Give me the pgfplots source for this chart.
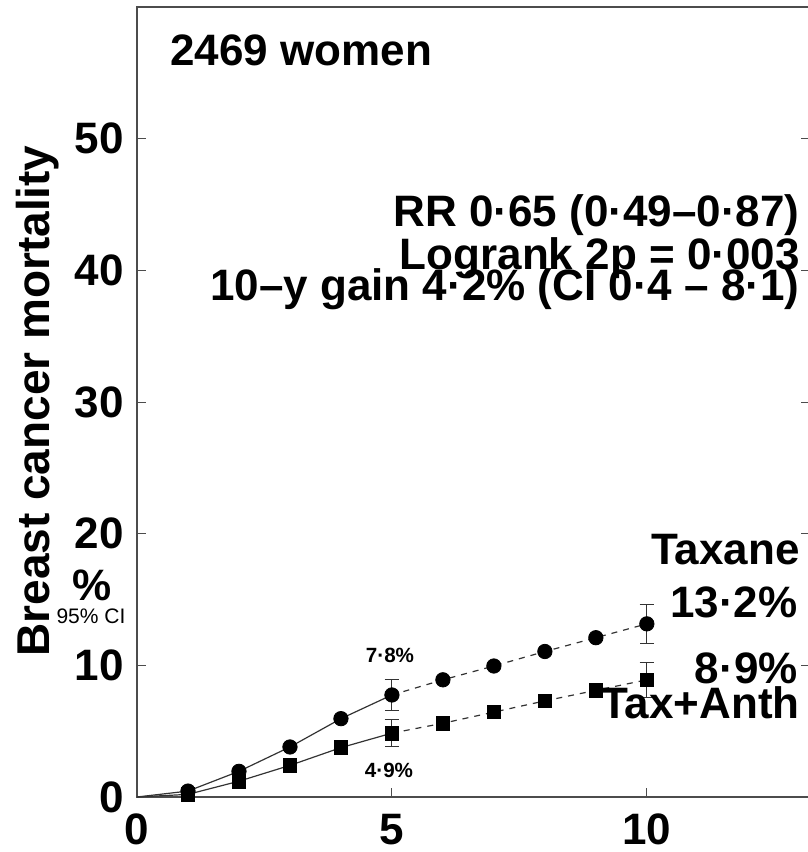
\documentclass[border=0pt]{standalone}
\usepackage{pgfplots}
\pgfplotsset{compat=1.18}
\usepackage{fontspec}
\setmainfont{Liberation Sans}

\begin{document}
\begin{tikzpicture}
\begin{axis}[
    at={(0,0)}, anchor=south west,
    scale only axis,
    width=336.5pt, height=395pt,
    xmin=0, xmax=13.2, ymin=0, ymax=60,
    xtick={0,5,10}, ytick={0,10,20,30,40,50},
    xtick pos=bottom, ytick pos=both,
    tick align=inside,
    major tick length=4.5pt,
    axis line style={black!70, line width=0.6pt},
    every tick/.style={black!70, line width=0.5pt},
    /pgf/number format/assume math mode=true,
    tick label style={font=\bfseries\fontsize{22}{22}\selectfont},
    xticklabel style={yshift=-5pt},
    yticklabel style={xshift=-3pt},
    clip=false
]
    % Taxane, solid to year 5 then dashed
    \addplot[black!80, line width=0.6pt] coordinates {(0,0)(1,0.45)(2,1.95)(3,3.8)(4,5.95)(5,7.75)};
    \addplot[black!80, line width=0.6pt, dashed] coordinates {(5,7.75)(6,8.9)(7,9.95)(8,11.05)(9,12.1)(10,13.15)};
    % Tax+Anth
    \addplot[black!80, line width=0.6pt] coordinates {(0,0)(1,0.2)(2,1.2)(3,2.4)(4,3.75)(5,4.85)};
    \addplot[black!80, line width=0.6pt, dashed] coordinates {(5,4.85)(6,5.6)(7,6.45)(8,7.3)(9,8.1)(10,8.9)};

    % error bars at 5 and 10 years
    \addplot[draw=none, mark=none,
        error bars/.cd, y dir=both, y explicit,
        error bar style={black!80, line width=0.5pt},
        error mark options={rotate=90, mark size=3.6pt, black!80, line width=0.5pt}]
        coordinates {(5,7.75) +- (0,1.2) (10,13.15) +- (0,1.5)};
    \addplot[draw=none, mark=none,
        error bars/.cd, y dir=both, y explicit,
        error bar style={black!80, line width=0.5pt},
        error mark options={rotate=90, mark size=3.6pt, black!80, line width=0.5pt}]
        coordinates {(5,4.85) +- (0,1.05) (10,8.9) +- (0,1.35)};

    % markers
    \addplot[only marks, mark=*, mark size=3.6pt, black]
        coordinates {(1,0.45)(2,1.95)(3,3.8)(4,5.95)(5,7.75)(6,8.9)(7,9.95)(8,11.05)(9,12.1)(10,13.15)};
    \addplot[only marks, mark=square*, mark size=3.4pt, black]
        coordinates {(1,0.2)(2,1.2)(3,2.4)(4,3.75)(5,4.85)(6,5.6)(7,6.45)(8,7.3)(9,8.1)(10,8.9)};
\end{axis}

\tikzset{big/.style={font=\bfseries\fontsize{22}{22}\selectfont, inner sep=0pt}}
\node[big, anchor=base west] at (16.5pt,365.5pt) {2469 women};
\node[big, anchor=base east] at (331.5pt,285pt) {RR 0·65 (0·49–0·87)};
\node[big, anchor=base east] at (331.5pt,263.5pt) {Logrank 2p = 0·003};
\node[big, anchor=base east] at (331.5pt,248pt) {10–y gain 4·2\% (CI 0·4 – 8·1)};
\node[big, anchor=base east] at (331.5pt,116pt) {Taxane};
\node[big, anchor=base east] at (330.5pt,89.5pt) {13·2\%};
\node[big, anchor=base east] at (330.5pt,56.5pt) {8·9\%};
\node[big, anchor=base east] at (331.5pt,39pt) {Tax+Anth};
\node[font=\bfseries\fontsize{10.3}{10.3}\selectfont, inner sep=0pt, anchor=base] at (126.5pt,67pt) {7·8\%};
\node[font=\bfseries\fontsize{10.3}{10.3}\selectfont, inner sep=0pt, anchor=base] at (126pt,10pt) {4·9\%};
\node[big, anchor=base] at (-22.5pt,98pt) {\%};
\node[font=\fontsize{10.5}{10.5}\selectfont, inner sep=0pt, anchor=base] at (-23pt,86.5pt) {95\% CI};
\node[font=\bfseries\fontsize{23}{23}\selectfont, inner sep=0pt, rotate=90, anchor=base] at (-43.5pt,198pt) {Breast cancer mortality};

\pgfresetboundingbox
\useasboundingbox (-68.5pt,-27.5pt) rectangle (335.5pt,398.5pt);
\end{tikzpicture}
\end{document}
